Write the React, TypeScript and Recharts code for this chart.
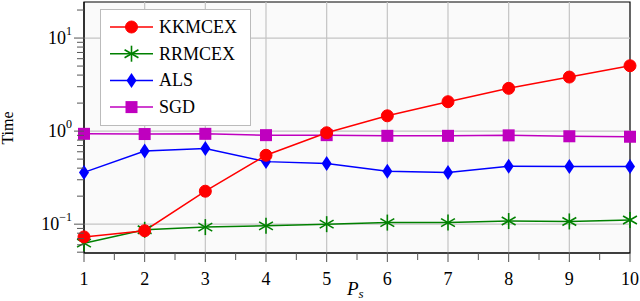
import React from "react";
import {
  LineChart,
  Line,
  XAxis,
  YAxis,
  CartesianGrid,
  ReferenceLine,
  ReferenceArea,
} from "recharts";

const ps = [1, 2, 3, 4, 5, 6, 7, 8, 9, 10];
const kkmcex = [0.073, 0.085, 0.226, 0.55, 0.96, 1.46, 2.07, 2.88, 3.81, 5.04];
const rrmcex = [0.0625, 0.087, 0.093, 0.096, 0.1, 0.104, 0.104, 0.108, 0.107, 0.111];
const als = [0.36, 0.61, 0.65, 0.47, 0.45, 0.37, 0.36, 0.42, 0.417, 0.417];
const sgd = [0.935, 0.93, 0.935, 0.905, 0.905, 0.89, 0.89, 0.9, 0.88, 0.87];

const xTicks = [1, 1.5, 2, 2.5, 3, 3.5, 4, 4.5, 5, 5.5, 6, 6.5, 7, 7.5, 8, 8.5, 9, 9.5, 10];
const yTicks = [
  0.05, 0.06, 0.07, 0.08, 0.09, 0.1, 0.2, 0.3, 0.4, 0.5, 0.6, 0.7, 0.8, 0.9,
  1, 2, 3, 4, 5, 6, 7, 8, 9, 10, 20,
];
const yMajor = [0.1, 1, 10];
const yDomain = [0.049, 24.4];

const data = ps.map((p, i) => ({
  p,
  kkmcex: kkmcex[i],
  rrmcex: rrmcex[i],
  als: als[i],
  sgd: sgd[i],
}));

const FONT = "Liberation Serif, DejaVu Serif, serif";
const RED = "#ff0000";
const GREEN = "#008000";
const BLUE = "#0000ff";
const MAGENTA = "#bf00bf";

function Circle({ cx, cy }: any) {
  return <circle cx={cx} cy={cy} r={6} fill={RED} stroke={RED} />;
}
function Star({ cx, cy }: any) {
  const r = 8;
  const a = r * Math.cos(Math.PI / 6);
  const b = r * Math.sin(Math.PI / 6);
  return (
    <g stroke={GREEN} strokeWidth={1.6}>
      <line x1={cx} y1={cy - r} x2={cx} y2={cy + r} />
      <line x1={cx - a} y1={cy - b} x2={cx + a} y2={cy + b} />
      <line x1={cx - a} y1={cy + b} x2={cx + a} y2={cy - b} />
    </g>
  );
}
function Diamond({ cx, cy }: any) {
  return (
    <polygon
      points={`${cx},${cy - 7.5} ${cx + 5},${cy} ${cx},${cy + 7.5} ${cx - 5},${cy}`}
      fill={BLUE}
    />
  );
}
function Square({ cx, cy }: any) {
  return <rect x={cx - 6} y={cy - 6} width={12} height={12} fill={MAGENTA} />;
}

const dotOf = (Shape: any) => (props: any) =>
  <Shape key={props.index} cx={props.cx} cy={props.cy} />;

const textStyle = { fontFamily: FONT };

function XTick({ x, y, payload }: any) {
  const major = Number.isInteger(payload.value);
  return (
    <g>
      <line x1={x} y1={y} x2={x} y2={y + (major ? 9 : 7)} stroke="#555" />
      {major && (
        <text x={x} y={y + 32} textAnchor="middle" style={textStyle} fontSize={18} fill="#000">
          {payload.value}
        </text>
      )}
    </g>
  );
}

function YTick({ x, y, payload }: any) {
  const v = payload.value;
  const major = yMajor.some((m) => Math.abs(m - v) < 1e-9);
  const exp = Math.round(Math.log10(v));
  return (
    <g>
      <line x1={x - (major ? 10 : 7)} y1={y} x2={x} y2={y} stroke="#555" />
      {major && (
        <text x={x - 12} y={y + 6} textAnchor="end" style={textStyle} fontSize={18} fill="#000">
          10
          <tspan dy={-9} fontSize={12}>
            {exp < 0 ? "\u2212" + Math.abs(exp) : exp}
          </tspan>
        </text>
      )}
    </g>
  );
}

const legendItems = [
  { name: "KKMCEX", color: RED, Shape: Circle },
  { name: "RRMCEX", color: GREEN, Shape: Star },
  { name: "ALS", color: BLUE, Shape: Diamond },
  { name: "SGD", color: MAGENTA, Shape: Square },
];

function LegendBox() {
  return (
    <svg
      width={152}
      height={118}
      style={{ position: "absolute", left: 100, top: 9 }}
    >
      <rect x={0.5} y={0.5} width={150} height={116} fill="#fff" stroke="#bbb" />
      {legendItems.map((it, i) => {
        const cy = 18 + i * 26.7;
        return (
          <g key={it.name}>
            <line x1={10} y1={cy} x2={53} y2={cy} stroke={it.color} strokeWidth={1.5} />
            <it.Shape cx={31.5} cy={cy} />
            <text x={59} y={cy + 6} style={textStyle} fontSize={18} fill="#000">
              {it.name}
            </text>
          </g>
        );
      })}
    </svg>
  );
}

export default function App() {
  return (
    <div style={{ position: "absolute", left: 0, top: 0, width: 640, height: 301, background: "#fff" }}>
      <LineChart
        width={640}
        height={301}
        data={data}
        margin={{ top: 2, right: 10, left: 0, bottom: 0 }}
      >
        <CartesianGrid fill="#fafafa" horizontal={false} vertical={false} />
        {ps.slice(1, -1).map((p) => (
          <ReferenceLine key={"vx" + p} x={p} stroke="#c4c4c4" strokeWidth={1.2} />
        ))}
        {yMajor.map((v) => (
          <ReferenceLine key={"hy" + v} y={v} stroke="#c4c4c4" strokeWidth={1.2} />
        ))}
        <XAxis
          dataKey="p"
          type="number"
          domain={[1, 10]}
          ticks={xTicks}
          interval={0}
          tick={<XTick />}
          tickLine={false}
          tickSize={0}
          tickMargin={0}
          height={48}
          axisLine={{ stroke: "#000" }}
        />
        <YAxis
          type="number"
          scale="log"
          domain={yDomain}
          allowDataOverflow
          ticks={yTicks}
          interval={0}
          tick={<YTick />}
          tickLine={false}
          tickSize={0}
          tickMargin={0}
          width={84}
          axisLine={{ stroke: "#000" }}
        />
        <Line dataKey="sgd" stroke={MAGENTA} strokeWidth={1.5} dot={dotOf(Square)} isAnimationActive={false} />
        <Line dataKey="als" stroke={BLUE} strokeWidth={1.5} dot={dotOf(Diamond)} isAnimationActive={false} />
        <Line dataKey="rrmcex" stroke={GREEN} strokeWidth={1.5} dot={dotOf(Star)} isAnimationActive={false} />
        <Line dataKey="kkmcex" stroke={RED} strokeWidth={1.5} dot={dotOf(Circle)} isAnimationActive={false} />
        <ReferenceArea x1={1} x2={10} y1={yDomain[0]} y2={yDomain[1]} fill="none" stroke="#000" strokeWidth={1.2} />
      </LineChart>
      <LegendBox />
      <div
        style={{
          position: "absolute",
          left: 8,
          top: 128,
          transform: "translate(-50%, -50%) rotate(-90deg)",
          fontFamily: FONT,
          fontSize: 16,
          lineHeight: 1,
        }}
      >
        Time
      </div>
      <div
        style={{
          position: "absolute",
          left: 347,
          top: 279,
          fontFamily: FONT,
          fontSize: 19,
          fontStyle: "italic",
          lineHeight: 1,
          whiteSpace: "nowrap",
        }}
      >
        P<span style={{ fontSize: 13, position: "relative", top: 3 }}>s</span>
      </div>
    </div>
  );
}
